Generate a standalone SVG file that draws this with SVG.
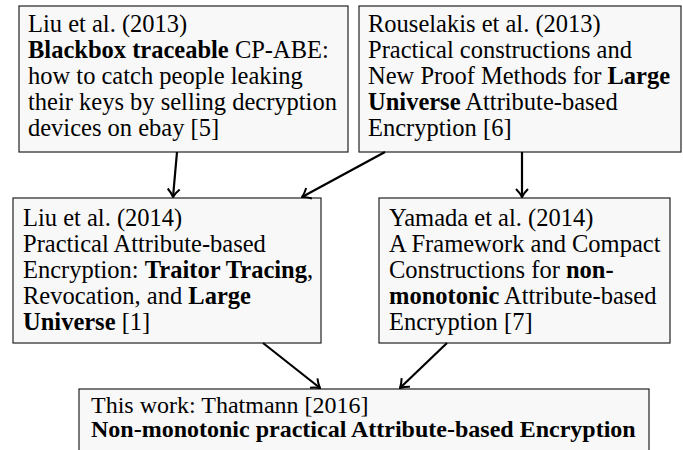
<svg xmlns="http://www.w3.org/2000/svg" width="683" height="450" viewBox="0 0 683 450">
<style>
.box{fill:#f8f8f8;stroke:#222;stroke-width:1.2}
.t{font-family:"Liberation Serif","Times New Roman",serif;font-size:24.5px;fill:#000}
.t5{font-family:"Liberation Serif","Times New Roman",serif;font-size:24px;fill:#000}
.b{font-weight:bold}
.edge{stroke:#000;stroke-width:2.2;fill:none;marker-end:url(#arr)}
</style>
<defs>
<marker id="arr" markerUnits="userSpaceOnUse" viewBox="0 0 10 14" refX="9" refY="7" markerWidth="10" markerHeight="14" orient="auto">
<path d="M1,1 Q5,5 9,7 Q5,9 1,13" fill="none" stroke="#000" stroke-width="2"/>
</marker>
</defs>
<rect width="683" height="450" fill="#fff"/>
<g id="n1">
<rect class="box" x="19" y="6" width="329" height="146"/>
<text class="t" x="28" y="32">Liu et al. (2013)</text>
<text class="t" x="28" y="58"><tspan class="b">Blackbox traceable</tspan> CP-ABE:</text>
<text class="t" x="28" y="84">how to catch people leaking</text>
<text class="t" x="28" y="110">their keys by selling decryption</text>
<text class="t" x="28" y="136">devices on ebay [5]</text>
</g>
<g id="n2">
<rect class="box" x="359" y="6" width="322" height="146"/>
<text class="t" x="368" y="32">Rouselakis et al. (2013)</text>
<text class="t" x="368" y="58">Practical constructions and</text>
<text class="t" x="368" y="84">New Proof Methods for <tspan class="b">Large</tspan></text>
<text class="t" x="368" y="110"><tspan class="b">Universe</tspan> Attribute-based</text>
<text class="t" x="368" y="136">Encryption [6]</text>
</g>
<g id="n3">
<rect class="box" x="13" y="198" width="308" height="145"/>
<text class="t" x="23" y="226">Liu et al. (2014)</text>
<text class="t" x="23" y="252">Practical Attribute-based</text>
<text class="t" x="23" y="278">Encryption: <tspan class="b">Traitor Tracing</tspan>,</text>
<text class="t" x="23" y="304">Revocation, and <tspan class="b">Large</tspan></text>
<text class="t" x="23" y="330"><tspan class="b">Universe</tspan> [1]</text>
</g>
<g id="n4">
<rect class="box" x="379" y="198" width="291" height="145"/>
<text class="t" x="389" y="226">Yamada et al. (2014)</text>
<text class="t" x="389" y="252">A Framework and Compact</text>
<text class="t" x="389" y="278">Constructions for <tspan class="b">non-</tspan></text>
<text class="t" x="389" y="304"><tspan class="b">monotonic</tspan> Attribute-based</text>
<text class="t" x="389" y="330">Encryption [7]</text>
</g>
<g id="n5">
<rect class="box" x="79" y="389" width="570" height="80"/>
<text class="t5" x="91" y="413">This work: Thatmann [2016]</text>
<text class="t5 b" x="91" y="437">Non-monotonic practical Attribute-based Encryption</text>
</g>
<g id="edges">
<line class="edge" x1="177" y1="152" x2="173" y2="197"/>
<line class="edge" x1="385" y1="152" x2="302" y2="197"/>
<line class="edge" x1="522" y1="152" x2="522" y2="197"/>
<line class="edge" x1="263" y1="343" x2="320" y2="388"/>
<line class="edge" x1="447" y1="343" x2="400" y2="388"/>
</g>
</svg>
